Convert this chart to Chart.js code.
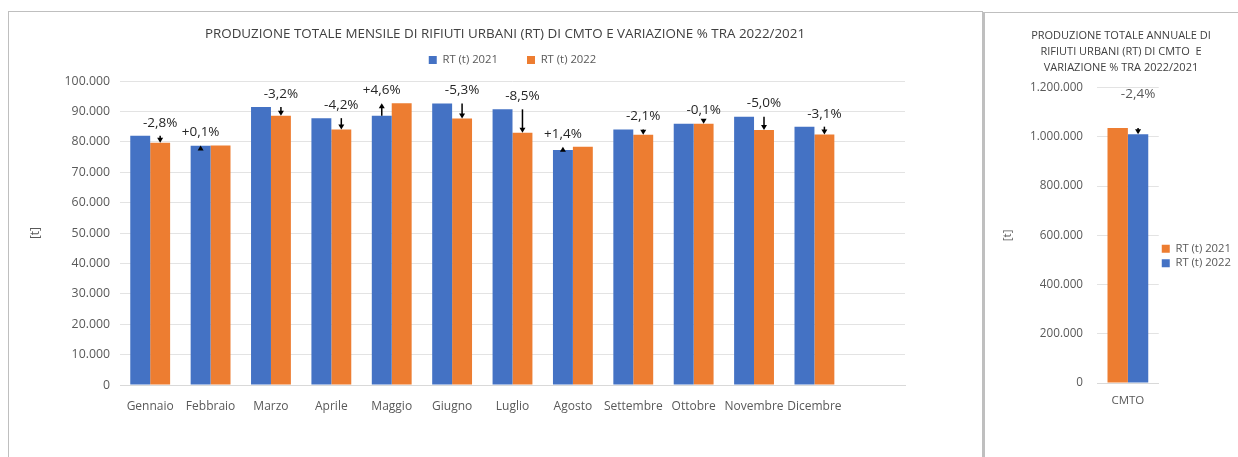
<!DOCTYPE html>
<html>
<head>
<meta charset="utf-8">
<script src="https://cdn.jsdelivr.net/npm/chart.js@4.4.1/dist/chart.umd.min.js"></script>
<style>
    body { margin: 0; background: #fff; overflow: hidden; }
    #box-mese { position: absolute; left: 8px; top: 11px; width: 973px; height: 470px; border: 1px solid #bfbfbf; }
    #box-anno { position: absolute; left: 983px; top: 12px; width: 300px; height: 470px; border-left: 2px solid #bfbfbf; border-top: 1px solid #bfbfbf; }
    canvas { display: block; }
</style>
</head>
<body>
<div id="box-mese"><canvas id="chartMese" width="973" height="460"></canvas></div>
<div id="box-anno"><canvas id="chartAnno" width="270" height="460"></canvas></div>
<script>
const mesi = ['Gennaio', 'Febbraio', 'Marzo', 'Aprile', 'Maggio', 'Giugno', 'Luglio', 'Agosto',
    'Settembre', 'Ottobre', 'Novembre', 'Dicembre', ''];
const rt2021 = [82000, 78700, 91500, 87800, 88600, 92600, 90700, 77300, 84100, 86000, 88300, 85000];
const rt2022 = [79700, 78800, 88600, 84100, 92700, 87700, 83000, 78400, 82300, 86000, 83900, 82400];
const variazioni = [-2.8, 0.1, -3.2, -4.2, 4.6, -5.3, -8.5, 1.4, -2.1, -0.1, -5.0, -3.1];

const annoLabels = ['CMTO'];
const tot2021 = [1036000];
const tot2022 = [1011000];
const variazioneAnno = [-2.4];

const BLU = '#4472C4';
const ARANCIO = '#ED7D31';
const GRIGIO = '#595959';
const FONT = "'Open Sans', sans-serif";

function migliaia(v) {
    return String(v).replace(/\B(?=(\d{3})+(?!\d))/g, '.');
}

function percento(p) {
    return (p > 0 ? '+' : '') + p.toFixed(1).replace('.', ',') + '%';
}

// frecce e etichette della variazione % sopra le barre
function frecce(pct, color, distanza) {
    return {
        id: 'frecce',
        afterDatasetsDraw(chart) {
            const ctx = chart.ctx;
            const y = chart.scales.y;
            const m0 = chart.getDatasetMeta(0);
            const m1 = chart.getDatasetMeta(1);
            const a = chart.data.datasets[0].data;
            const b = chart.data.datasets[1].data;
            ctx.save();
            pct.forEach(function (p, i) {
                const x = p < 0 ? m1.data[i].x : m0.data[i].x;
                const y0 = y.getPixelForValue(a[i]);
                const y1 = y.getPixelForValue(b[i]);
                const dir = y1 >= y0 ? 1 : -1;
                ctx.strokeStyle = '#000';
                ctx.fillStyle = '#000';
                ctx.lineWidth = 1.5;
                if (Math.abs(y1 - y0) > 5) {
                    ctx.beginPath();
                    ctx.moveTo(x, y0);
                    ctx.lineTo(x, y1 - dir * 4);
                    ctx.stroke();
                }
                ctx.beginPath();
                ctx.moveTo(x, y1);
                ctx.lineTo(x - 3, y1 - dir * 5);
                ctx.lineTo(x + 3, y1 - dir * 5);
                ctx.closePath();
                ctx.fill();

                ctx.fillStyle = color;
                ctx.font = '13.5px ' + FONT;
                ctx.textAlign = 'center';
                ctx.textBaseline = 'middle';
                ctx.fillText(percento(p), x, Math.min(y0, y1) - distanza);
            });
            ctx.restore();
        }
    };
}

// asse vuoto usato solo per riservare spazio
function spazio(position, size) {
    return {
        type: position === 'top' ? 'category' : 'linear',
        position: position,
        grid: { display: false },
        border: { display: false },
        ticks: { display: false },
        afterFit: function (s) {
            if (position === 'top') { s.height = size; } else { s.width = size; }
        }
    };
}

Chart.defaults.font.family = FONT;
Chart.defaults.color = GRIGIO;
Chart.defaults.animation = false;

new Chart(document.getElementById('chartMese'), {
    type: 'bar',
    data: {
        labels: mesi,
        datasets: [
            { label: 'RT (t) 2021', data: rt2021, backgroundColor: BLU },
            { label: 'RT (t) 2022', data: rt2022, backgroundColor: ARANCIO }
        ]
    },
    options: {
        responsive: false,
        devicePixelRatio: 1,
        categoryPercentage: 0.66,
        barPercentage: 1,
        layout: { padding: { left: 19, right: 0, top: 0, bottom: 0 } },
        plugins: {
            title: {
                display: true,
                text: 'PRODUZIONE TOTALE MENSILE DI RIFIUTI URBANI (RT) DI CMTO E VARIAZIONE % TRA 2022/2021',
                font: { size: 13.4, weight: 'normal', lineHeight: 1.2 },
                padding: { top: 14, bottom: -16.7 },
                color: '#404040'
            },
            legend: {
                fullSize: false,
                labels: { boxWidth: 8, boxHeight: 8, font: { size: 11.3 }, padding: 29 }
            },
            tooltip: { enabled: false }
        },
        scales: {
            x: {
                grid: { display: false },
                border: { color: '#d9d9d9' },
                ticks: { font: { size: 12 }, padding: 6, autoSkip: false, maxRotation: 0 },
                afterFit: function (s) { s.height = 87; }
            },
            xTop: spazio('top', 5.4),
            y: {
                min: 0,
                max: 100000,
                grid: { color: '#e3e3e3', drawTicks: false },
                border: { display: false },
                ticks: { stepSize: 10000, padding: 10, font: { size: 12.3 }, callback: function (v) { return migliaia(v); } },
                title: { display: true, text: '[t]', font: { size: 12 }, padding: { top: 0 } },
                afterFit: function (s) { s.width = 92; }
            },
            y2: spazio('right', 77)
        }
    },
    plugins: [frecce(variazioni, '#262626', 13)]
});

new Chart(document.getElementById('chartAnno'), {
    type: 'bar',
    data: {
        labels: annoLabels,
        datasets: [
            { label: 'RT (t) 2021', data: tot2021, backgroundColor: ARANCIO },
            { label: 'RT (t) 2022', data: tot2022, backgroundColor: BLU }
        ]
    },
    options: {
        responsive: false,
        devicePixelRatio: 1,
        categoryPercentage: 0.66,
        barPercentage: 1,
        layout: { padding: { left: 16, right: 14, top: 0, bottom: 0 } },
        plugins: {
            title: {
                display: true,
                text: ['PRODUZIONE TOTALE ANNUALE DI', 'RIFIUTI URBANI (RT) DI CMTO  E', 'VARIAZIONE % TRA 2022/2021'],
                font: { size: 11, weight: 'normal', lineHeight: 1.4545 },
                padding: { top: 15, bottom: 11.7 },
                color: '#404040'
            },
            legend: {
                position: 'right',
                maxWidth: 100,
                title: { display: true, text: ' ', font: { size: 10 }, padding: { top: 7, bottom: 7 } },
                labels: { boxWidth: 8, boxHeight: 8, font: { size: 11.3 }, padding: 3 }
            },
            tooltip: { enabled: false }
        },
        scales: {
            x: {
                grid: { display: false },
                border: { color: '#d9d9d9' },
                ticks: { font: { size: 11.5 }, padding: 3 },
                afterFit: function (s) { s.height = 90; }
            },
            y: {
                min: 0,
                max: 1200000,
                grid: { color: '#e3e3e3', drawTicks: false },
                border: { display: false },
                ticks: { stepSize: 200000, padding: 14, font: { size: 11.7 }, callback: function (v) { return migliaia(v); } },
                title: { display: true, text: '[t]', font: { size: 11.5 }, padding: { top: 0 } },
                afterFit: function (s) { s.width = 96; }
            }
        }
    },
    plugins: [frecce(variazioneAnno, GRIGIO, 34)]
});
</script>
</body>
</html>
